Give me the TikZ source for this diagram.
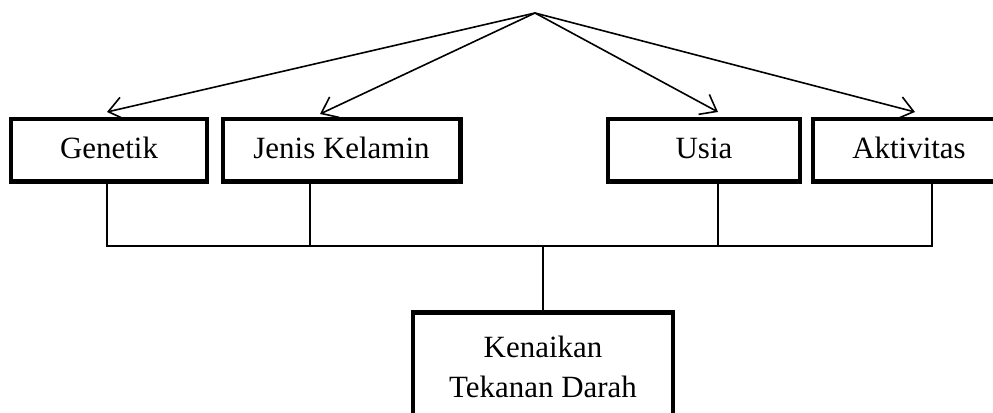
\documentclass[tikz,border=0pt]{standalone}
\usepackage{fontspec}
\setmainfont{Liberation Serif}
\usetikzlibrary{positioning,arrows.meta}
\tikzset{faktor/.style={draw,line width=3.5pt,minimum height=47pt,inner sep=0pt,text height=16pt,text depth=4pt,font=\fontsize{23.2}{30}\selectfont}}
\tikzset{garis/.style={line width=1.2pt}}
\tikzset{panah/.style={garis,-{Straight Barb[length=11pt,width=17pt,line width=1.2pt]}}}

\begin{document}
\begin{tikzpicture}[x=0.75pt,y=-0.75pt]
    \useasboundingbox (0,0) rectangle (993,413);

    % Draw factor boxes
    \node[faktor,minimum width=147pt] (gen) at (109,150.5) {Genetik};
    \node[faktor,minimum width=178pt] (jk) at (341.5,150.5) {Jenis Kelamin};
    \node[faktor,minimum width=144pt] (usia) at (704,150.5) {Usia};
    \node[faktor,minimum width=144pt] (akt) at (909,150.5) {Aktivitas};

    % Draw result box
    \node[faktor,text height=,text depth=,minimum width=195pt,minimum height=82pt,align=center] (hasil) at (543,367)
        {Kenaikan\\Tekanan Darah};

    % Draw arrows from the top
    \coordinate (puncak) at (535,13);
    \coordinate (tgen) at (107,112);
    \coordinate (tjk) at (320,114);
    \coordinate (tusia) at (718,112);
    \coordinate (takt) at (915,112);
    \foreach \t in {tgen,tjk,tusia,takt}
        \draw[panah] (puncak) -- (\t);

    % Draw connecting lines below
    \coordinate (bgen) at (107,246);
    \coordinate (bjk) at (310,246);
    \coordinate (busia) at (718,246);
    \coordinate (bakt) at (932,246);
    \coordinate (bpusat) at (543,246);
    \draw[garis] (bgen |- gen.south) -- (bgen) -- (bakt) -- (bakt |- akt.south);
    \draw[garis] (bjk |- jk.south) -- (bjk);
    \draw[garis] (busia |- usia.south) -- (busia);
    \draw[garis] (bpusat) -- (hasil.north);
\end{tikzpicture}
\end{document}
